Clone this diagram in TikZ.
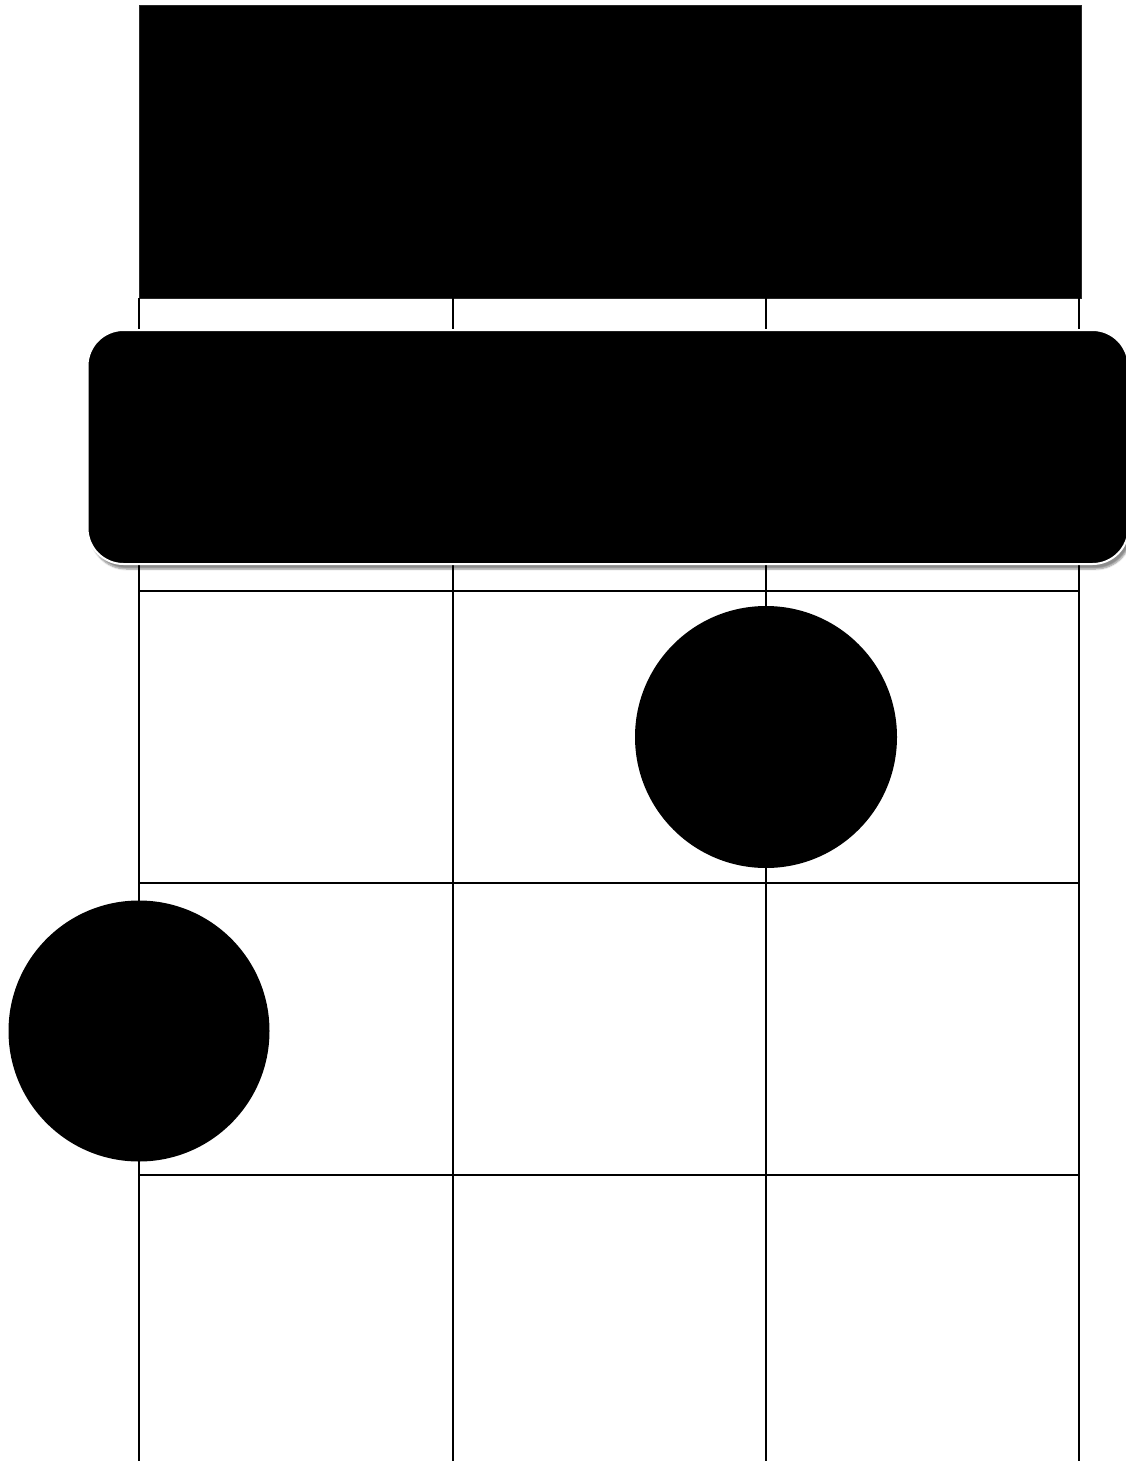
\documentclass[tikz,border=0pt]{standalone}
\usetikzlibrary{shadows,shadows.blur}
\begin{document}
\begin{tikzpicture}[x=1pt,y=-1pt,
  wire/.style={line width=2.4pt,black},
  fret/.style={line width=2.4pt,black},
  dotmark/.style={circle,fill=black,minimum size=262pt,inner sep=0pt},
  barre/.style={rectangle,rounded corners=36pt,fill=black,draw=white,line width=2pt,
     minimum width=1041pt,minimum height=234pt,inner sep=0pt,
     blur shadow={shadow xshift=3pt,shadow yshift=-5pt,shadow blur steps=6,shadow blur extra rounding=2pt,shadow opacity=45}}]
\useasboundingbox (0,0) rectangle (1125,1461);
% nut
\node (nut) [rectangle,fill=black,draw=black!85,line width=1pt,minimum width=942pt,minimum height=293pt,inner sep=0pt,anchor=north west] at (138.5,5) {};
% strings
\foreach \n/\x in {s1/139,s2/453,s3/766,s4/1079}{
  \coordinate (\n top) at (\x,298);
  \coordinate (\n bot) at (\x,1461);
  \draw[wire] (\n top) -- (\n bot);
}
% frets
\foreach \n/\y in {f1/591,f2/883,f3/1175}{
  \coordinate (\n l) at (139,\y);
  \coordinate (\n r) at (1079,\y);
  \draw[fret] (\n l) -- (\n r);
}
% barre
\node (bar) [barre] at (608,447) {};
% dots
\node (d1) [dotmark] at (766,737) {};
\node (d2) [dotmark,minimum size=261pt] at (139,1031) {};
\end{tikzpicture}
\end{document}
